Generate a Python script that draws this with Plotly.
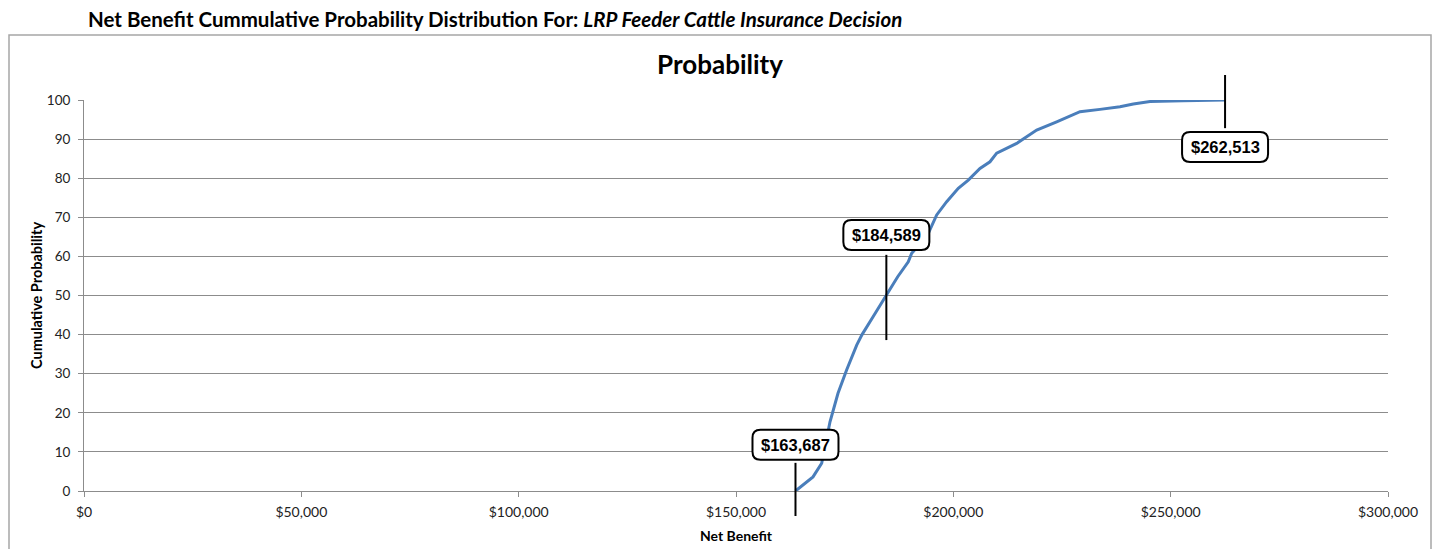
import plotly.graph_objects as go

# ---- data ----
net_benefit = [163687, 167715, 169716, 171626, 173466, 175468, 177769, 179000, 181500,
               184589, 187200, 189636, 190418, 193870, 196170, 198470, 201139, 203440,
               206131, 208432, 209973, 214574, 219175, 223777, 229141, 233742, 238344,
               241403, 245245, 252837, 262513]
cum_prob = [0, 3.6, 7.1, 17.7, 25, 31, 37.3, 40, 44.5,
            50, 54.8, 58.6, 60.8, 65, 70.6, 74, 77.4, 79.5,
            82.5, 84.2, 86.4, 88.9, 92.3, 94.4, 97, 97.6, 98.3,
            99, 99.6, 99.8, 100]

label_values = [163687, 184589, 262513]
label_texts = ["$163,687", "$184,589", "$262,513"]

x_tick_vals = [0, 50000, 100000, 150000, 200000, 250000, 300000]
x_tick_text = ["$0", "$50,000", "$100,000", "$150,000", "$200,000", "$250,000", "$300,000"]
y_tick_vals = [0, 10, 20, 30, 40, 50, 60, 70, 80, 90, 100]

# ---- layout constants ----
Y_MIN, Y_MAX = 0, 100
box_y = [11.8, 65.5, 88.0]          # label box centres (y data)
stem_lo = [-6.4, 38.6, 92.8]        # leader line extents (y data)
stem_hi = [7.2, 60.4, 106.4]

OFF = 8                              # page body margin
W, H = 1440 - 2 * OFF, 557 - 2 * OFF
# desired plot area in page pixels
PX0, PX1, PY0, PY1 = 84, 1388, 100, 491
L, R = PX0 - OFF, W - (PX1 - OFF)
T, B = PY0 - OFF, H - (PY1 - OFF)
plot_w = PX1 - PX0
plot_h = PY1 - PY0

GRID = "#8c8c8c"
FONT = "Lato"

fig = go.Figure()
fig.add_trace(go.Scatter(
    x=net_benefit, y=cum_prob, mode="lines",
    line=dict(color="#4A7EBB", width=3), showlegend=False, hoverinfo="x+y"))


def to_paper_y(v):
    return (v - Y_MIN) / (Y_MAX - Y_MIN)


def px_to_paper_x(px):
    return (px - PX0) / plot_w


def py_to_paper_y(py):
    return (PY1 - py) / plot_h


shapes = []
annotations = []

# outer chart border
shapes.append(dict(type="rect", xref="paper", yref="paper",
                   x0=px_to_paper_x(9), x1=px_to_paper_x(1431),
                   y0=py_to_paper_y(580), y1=py_to_paper_y(35),
                   line=dict(color="#a6a6a6", width=1.5), fillcolor="rgba(0,0,0,0)",
                   layer="below"))

bw, bh, r = 43, 15, 8
box_path = (f"M {-bw + r},{-bh} L {bw - r},{-bh} Q {bw},{-bh} {bw},{-bh + r} "
            f"L {bw},{bh - r} Q {bw},{bh} {bw - r},{bh} L {-bw + r},{bh} "
            f"Q {-bw},{bh} {-bw},{bh - r} L {-bw},{-bh + r} Q {-bw},{-bh} {-bw + r},{-bh} Z")

for v, t, by, lo, hi in zip(label_values, label_texts, box_y, stem_lo, stem_hi):
    shapes.append(dict(type="line", xref="x", yref="paper", x0=v, x1=v,
                       y0=to_paper_y(lo), y1=to_paper_y(hi),
                       line=dict(color="black", width=2), layer="above"))
    shapes.append(dict(type="path", xref="x", yref="y",
                       xsizemode="pixel", ysizemode="pixel", xanchor=v, yanchor=by,
                       path=box_path, fillcolor="white",
                       line=dict(color="black", width=2), layer="above"))
    annotations.append(dict(x=v, y=by, xref="x", yref="y", text=f"<b>{t}</b>",
                            showarrow=False,
                            font=dict(family="Liberation Sans, Arial", size=16.5, color="black")))

# top title
annotations.append(dict(
    xref="paper", yref="paper", x=px_to_paper_x(86), y=py_to_paper_y(19),
    xanchor="left", yanchor="middle", showarrow=False,
    text="<b>Net Benefit Cummulative Probability Distribution For: <i>LRP Feeder Cattle Insurance Decision</i></b>",
    font=dict(family=FONT, size=20.5, color="black")))

# axis titles (placed explicitly)
annotations.append(dict(
    xref="paper", yref="paper", x=px_to_paper_x(36), y=py_to_paper_y(296),
    xanchor="center", yanchor="middle", showarrow=False, textangle=-90,
    text="<b>Cumulative Probability</b>",
    font=dict(family=FONT, size=14.5, color="black")))
annotations.append(dict(
    xref="paper", yref="paper", x=px_to_paper_x(736), y=py_to_paper_y(535),
    xanchor="center", yanchor="middle", showarrow=False,
    text="<b>Net Benefit</b>",
    font=dict(family=FONT, size=14, color="black")))

fig.update_layout(
    width=W, height=H,
    margin=dict(l=L, r=R, t=T, b=B, pad=0, autoexpand=False),
    paper_bgcolor="white", plot_bgcolor="white",
    title=dict(text="<b>Probability</b>", x=(720 - OFF) / W, xref="container", xanchor="center",
               y=1 - (65 - OFF) / H, yref="container", yanchor="middle",
               font=dict(family=FONT, size=26, color="black")),
    font=dict(family=FONT, size=14, color="#222"),
    shapes=shapes, annotations=annotations,
    xaxis=dict(range=[0, 300000], tickvals=x_tick_vals, ticktext=x_tick_text,
               showgrid=False, zeroline=False, showline=True, linecolor=GRID, linewidth=1,
               ticks="outside", ticklen=5, tickcolor=GRID, ticklabelstandoff=3,
               automargin=False,
               tickfont=dict(family=FONT, size=14, color="#222")),
    yaxis=dict(range=[Y_MIN, Y_MAX], tickvals=y_tick_vals,
               showgrid=True, gridcolor=GRID, gridwidth=1, zeroline=False,
               showline=True, linecolor=GRID, linewidth=1, automargin=False,
               ticks="outside", ticklen=5, tickcolor=GRID, ticklabelstandoff=5,
               tickfont=dict(family=FONT, size=13.5, color="#222")),
)

fig.write_html("out.html")
